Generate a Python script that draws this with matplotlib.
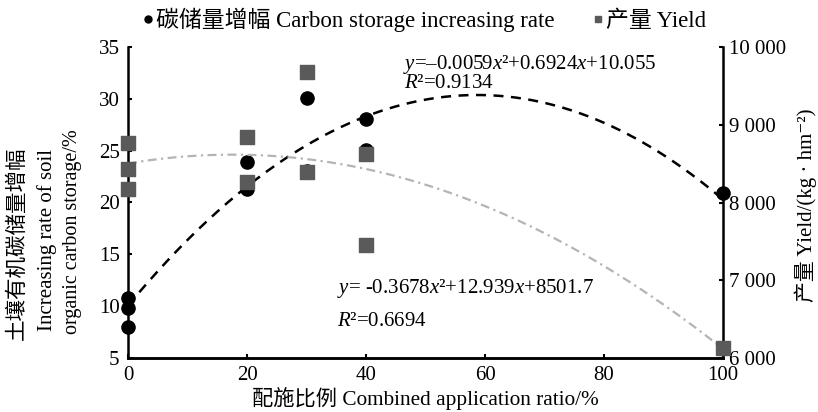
import numpy as np
import matplotlib
matplotlib.use("Agg")
import matplotlib.pyplot as plt
from matplotlib.lines import Line2D
from matplotlib.ticker import FixedLocator, FixedFormatter

FAM = ['Liberation Serif', 'Noto Sans CJK SC', 'DejaVu Serif']
plt.rcParams['font.family'] = FAM
plt.rcParams['mathtext.fontset'] = 'custom'
plt.rcParams['mathtext.rm'] = 'Liberation Serif'
plt.rcParams['mathtext.it'] = 'Liberation Serif:italic'

# Carbon storage increasing rate (%), left axis
carbon_x = [0, 0, 0, 20, 20, 30, 30, 40, 40, 100]
carbon_y = [10.8, 9.8, 8.0, 23.9, 21.3, 30.1, 23.0, 28.1, 25.1, 20.9]
# Yield (kg/hm2), right axis
yield_x = [0, 0, 0, 20, 20, 30, 30, 40, 40, 100]
yield_y = [8765, 8430, 8175, 8840, 8265, 9680, 8390, 8625, 7455, 6135]
# Fitted quadratic coefficients (a, b, c)
carbon_fit = [-0.0059, 0.6924, 10.055]
yield_fit = [-0.3678, 12.939, 8501.7]

left_ticks = [5, 10, 15, 20, 25, 30, 35]
right_ticks = [6000, 7000, 8000, 9000, 10000]
right_labels = ["6 000", "7 000", "8 000", "9 000", "10 000"]
x_ticks = [0, 20, 40, 60, 80, 100]

fig = plt.figure(figsize=(8.18, 4.12), dpi=100)
ax = fig.add_axes([128/818, 1-358/412, 595/818, 311/412])
ax2 = ax.twinx()

xs = np.linspace(0, 100, 300)
ax.plot(xs, np.polyval(carbon_fit, xs), color='black', lw=1.8, ls=(0, (4, 3)), zorder=2)
ax.scatter(carbon_x, carbon_y, s=90, color='black', marker='o', zorder=3, clip_on=False)
ax2.plot(xs, np.polyval(yield_fit, xs), color='#b4b4b4', lw=1.6, ls=(0, (4, 2, 1, 2)), zorder=2)
ax2.scatter(yield_x, yield_y, s=90, color='#5a5a5a', marker='s', zorder=3, clip_on=False)

ax.set_xlim(0, 100)
ax.set_ylim(5, 35)
ax2.set_ylim(6000, 10000)
ax.set_xticks(x_ticks)
ax.set_yticks(left_ticks)
ax2.yaxis.set_major_locator(FixedLocator(right_ticks))
ax2.yaxis.set_major_formatter(FixedFormatter(right_labels))

for a in (ax, ax2):
    a.spines['top'].set_visible(False)
    for s in ('left', 'right', 'bottom'):
        a.spines[s].set_linewidth(1.8)
        a.spines[s].set_color('black')
    a.tick_params(direction='in', length=3, width=1.5, labelsize=15, color='black')
ax.spines['right'].set_visible(False)
ax2.spines['left'].set_visible(False)
ax.tick_params(axis='x', pad=6)
ax.tick_params(axis='y', pad=6)
ax2.tick_params(axis='y', pad=4)

ax.set_xlabel('配施比例 Combined application ratio/%', fontsize=15.3, labelpad=1)

# left ylabel (three lines)
fig.text(18/818, 1-243/412, '土壤有机碳储量增幅', rotation=90, fontsize=15.5, ha='center', va='center')
fig.text(47/818, 1-240/412, 'Increasing rate of soil', rotation=90, fontsize=15, ha='center', va='center')
fig.text(72/818, 1-232/412, 'organic carbon storage/%', rotation=90, fontsize=14.5, ha='center', va='center')
# right ylabel
fig.text(806/818, 1-205/412, '产量 Yield/(kg · hm⁻²)', rotation=90, fontsize=15, ha='center', va='center')

# equations
fig.text(403/818, 1-64/412, '$y$=–0.0059$x$²+0.6924$x$+10.055', fontsize=15, ha='left', va='center')
fig.text(404/818, 1-84/412, '$R$²=0.9134', fontsize=15, ha='left', va='center')
fig.text(337/818, 1-288/412, '$y$= -0.3678$x$²+12.939$x$+8501.7', fontsize=15, ha='left', va='center')
fig.text(337/818, 1-322/412, '$R$²=0.6694', fontsize=15, ha='left', va='center')

handles = [Line2D([], [], ls='none', marker='o', color='black', markersize=5),
           Line2D([], [], ls='none', marker='s', color='#5a5a5a', markersize=5)]
fig.legend(handles, ['碳储量增幅 Carbon storage increasing rate', '产量 Yield'],
           loc='center', bbox_to_anchor=(424/818, 1-20/412), ncol=2, frameon=False,
           fontsize=16.5, handletextpad=0.05, columnspacing=1.6, handlelength=0.6)

fig.savefig('out.png', dpi=100)
